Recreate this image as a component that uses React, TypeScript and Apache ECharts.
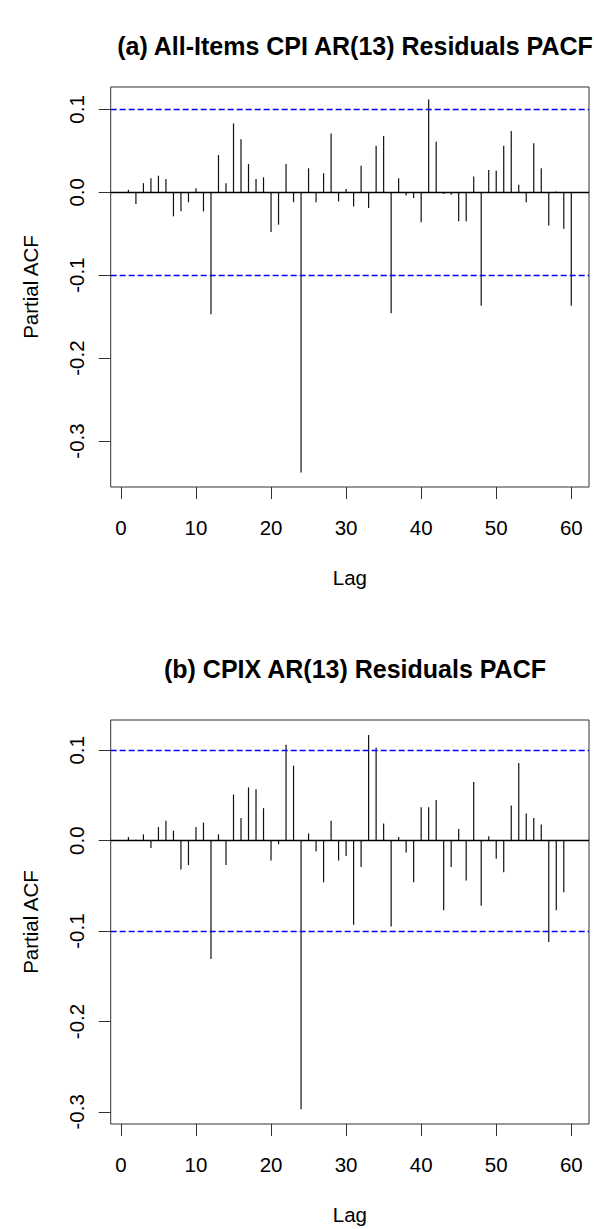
import React, { useEffect, useRef } from "react";
import * as echarts from "echarts";

// ---- Data ----
const lags: number[] = Array.from({ length: 60 }, (_, i) => i + 1);

const pacfAllItems: number[] = [
  0.003, -0.014, 0.011, 0.017, 0.020, 0.016, -0.029, -0.023, -0.012, 0.005,
  -0.023, -0.147, 0.045, 0.011, 0.083, 0.064, 0.034, 0.016, 0.018, -0.048,
  -0.039, 0.034, -0.012, -0.338, 0.029, -0.012, 0.023, 0.071, -0.011, 0.004,
  -0.017, 0.032, -0.019, 0.056, 0.068, -0.146, 0.017, -0.004, -0.007, -0.036,
  0.112, 0.061, -0.002, -0.003, -0.035, -0.035, 0.019, -0.137, 0.027, 0.026,
  0.056, 0.074, 0.009, -0.012, 0.059, 0.029, -0.040, 0.001, -0.044, -0.137,
];

const pacfCPIX: number[] = [
  0.004, 0.001, 0.007, -0.008, 0.015, 0.022, 0.011, -0.032, -0.027, 0.015,
  0.020, -0.131, 0.007, -0.027, 0.051, 0.025, 0.059, 0.057, 0.036, -0.022,
  -0.004, 0.106, 0.083, -0.297, 0.008, -0.012, -0.046, 0.022, -0.022, -0.017,
  -0.093, -0.029, 0.117, 0.103, 0.019, -0.095, 0.004, -0.013, -0.046, 0.037,
  0.037, 0.045, -0.077, -0.029, 0.013, -0.044, 0.065, -0.072, 0.005, -0.020,
  -0.035, 0.039, 0.086, 0.030, 0.025, 0.018, -0.112, -0.077, -0.057, 0.0,
];

const xTicks: number[] = [0, 10, 20, 30, 40, 50, 60];
const yTicks: number[] = [-0.3, -0.2, -0.1, 0.0, 0.1];
const confLimit = 0.1005;

const titles: string[] = [
  "(a) All-Items CPI AR(13) Residuals PACF",
  "(b) CPIX AR(13) Residuals PACF",
];

const FONT = "'Liberation Sans', Arial, sans-serif";

export default function App() {
  const ref = useRef<HTMLDivElement>(null);

  useEffect(() => {
    if (!ref.current) return;
    const chart = echarts.init(ref.current, null, { renderer: "svg" });

    const gridLeft = 110.7;
    const gridWidth = 478.3;
    const grids = [
      { left: gridLeft, top: 87, width: gridWidth, height: 400 },
      { left: gridLeft, top: 720, width: gridWidth, height: 404 },
    ];
    const yRanges = [
      { min: -0.3555, max: 0.127 },
      { min: -0.3134, max: 0.1335 },
    ];
    const datasets = [pacfAllItems, pacfCPIX];

    const makeX = (i: number) => ({
      type: "value",
      gridIndex: i,
      min: -1.36,
      max: 62.36,
      name: "Lag",
      nameLocation: "middle",
      nameGap: 80,
      nameTextStyle: { fontFamily: FONT, fontSize: 20.5, color: "#000" },
      splitLine: { show: false },
      axisLine: { show: false, onZero: false },
      axisTick: {
        show: true,
        customValues: xTicks,
        length: 12,
        lineStyle: { color: "#333", width: 1 },
      },
      axisLabel: {
        show: true,
        customValues: xTicks,
        margin: 30,
        fontFamily: FONT,
        fontSize: 20.5,
        color: "#000",
        formatter: (v: number) => String(Math.round(v)),
      },
    });

    const makeY = (i: number) => ({
      type: "value",
      gridIndex: i,
      min: yRanges[i].min,
      max: yRanges[i].max,
      name: "Partial ACF",
      nameLocation: "middle",
      nameRotate: 90,
      nameGap: 70,
      nameTextStyle: { fontFamily: FONT, fontSize: 20.5, color: "#000" },
      splitLine: { show: false },
      axisLine: { show: false, onZero: false },
      axisTick: {
        show: true,
        customValues: yTicks,
        length: 12,
        lineStyle: { color: "#333", width: 1 },
      },
      axisLabel: {
        show: true,
        customValues: yTicks,
        rotate: 90,
        margin: 24,
        fontFamily: FONT,
        fontSize: 20.5,
        color: "#000",
        formatter: (v: number) => v.toFixed(1),
      },
    });

    const makeSeries = (i: number) => ({
      type: "custom",
      xAxisIndex: i,
      yAxisIndex: i,
      silent: true,
      data: lags.map((l, k) => [l, datasets[i][k]]),
      renderItem: (_params: any, api: any) => {
        const x = api.value(0);
        const y = api.value(1);
        const p0 = api.coord([x, 0]);
        const p1 = api.coord([x, y]);
        return {
          type: "line",
          shape: { x1: p0[0], y1: p0[1], x2: p1[0], y2: p1[1] },
          style: { stroke: "#111", lineWidth: 1.2 },
        };
      },
      markLine: {
        silent: true,
        symbol: "none",
        label: { show: false },
        data: [
          { yAxis: 0, lineStyle: { color: "#000", type: "solid", width: 1.3 } },
          {
            yAxis: confLimit,
            lineStyle: { color: "#0000ff", type: [6, 3], width: 1.3 },
          },
          {
            yAxis: -confLimit,
            lineStyle: { color: "#0000ff", type: [6, 3], width: 1.3 },
          },
        ],
      },
    });

    chart.setOption({
      animation: false,
      backgroundColor: "#fff",
      title: [
        {
          text: titles[0],
          left: 350,
          top: 28,
          textAlign: "center",
          textStyle: {
            fontFamily: FONT,
            fontSize: 25,
            fontWeight: "bold",
            color: "#000",
          },
        },
        {
          text: titles[1],
          left: 350,
          top: 651,
          textAlign: "center",
          textStyle: {
            fontFamily: FONT,
            fontSize: 25,
            fontWeight: "bold",
            color: "#000",
          },
        },
      ],
      grid: grids.map((g) => ({
        ...g,
        show: true,
        borderColor: "#333",
        borderWidth: 1,
        backgroundColor: "transparent",
      })),
      xAxis: [makeX(0), makeX(1)],
      yAxis: [makeY(0), makeY(1)],
      series: [makeSeries(0), makeSeries(1)],
    });

    return () => chart.dispose();
  }, []);

  return (
    <div
      ref={ref}
      style={{ position: "absolute", left: 0, top: 0, width: 594, height: 1229 }}
    />
  );
}
